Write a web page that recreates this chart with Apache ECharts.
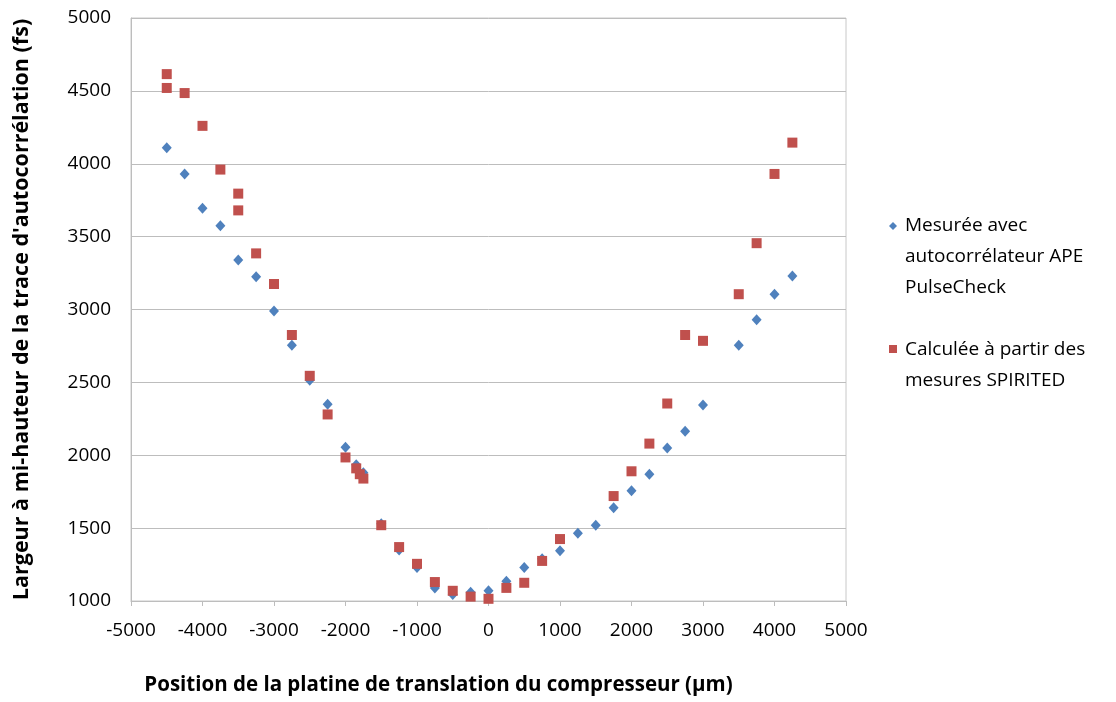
<!DOCTYPE html>
<html>
<head>
<meta charset="utf-8">
<script src="https://cdn.jsdelivr.net/npm/echarts@6/dist/echarts.min.js"></script>
<style>html,body{margin:0;padding:0;background:#fff;}#c{width:1116px;height:702px;}</style>
</head>
<body>
<div id="c"></div>
<script>
const measuredX = [-4500,-4250,-4000,-3750,-3500,-3250,-3000,-2750,-2500,-2250,-2000,-1850,-1750,-1500,-1250,-1000,-750,-500,-250,0,250,500,750,1000,1250,1500,1750,2000,2250,2500,2750,3000,3500,3750,4000,4250];
const measuredY = [4110,3930,3695,3575,3340,3225,2990,2755,2515,2350,2055,1935,1880,1530,1350,1230,1090,1045,1060,1070,1135,1230,1290,1345,1465,1520,1640,1757,1870,2050,2165,2345,2755,2930,3105,3230];
const calcX = [-4500,-4500,-4250,-4000,-3750,-3500,-3500,-3250,-3000,-2750,-2500,-2250,-2000,-1850,-1800,-1750,-1500,-1250,-1000,-750,-500,-250,0,250,500,750,1000,1750,2000,2250,2500,2750,3000,3500,3750,4000,4250];
const calcY = [4615,4520,4485,4260,3960,3795,3680,3385,3175,2825,2545,2280,1985,1910,1870,1840,1520,1370,1255,1130,1070,1030,1015,1090,1125,1275,1425,1720,1890,2080,2355,2825,2785,3105,3455,3930,4145];
const seriesNames = ["Mesurée avec\nautocorrélateur APE\nPulseCheck", "Calculée à partir des\nmesures SPIRITED"];
const xTitle = "Position de la platine de translation du compresseur (µm)";
const yTitle = "Largeur à mi-hauteur de la trace d'autocorrélation (fs)";

const FONT = "Open Sans";
const BLUE = "#4F81BD", RED = "#C0504D";
const plain = v => String(v);
const chart = echarts.init(document.getElementById('c'));
chart.setOption({
  animation: false,
  backgroundColor: '#fff',
  grid: { left: 131, right: 270, top: 18, bottom: 101, show: true, borderColor: '#c8c8c8', borderWidth: 1 },
  xAxis: {
    type: 'value', min: -5000, max: 5000, interval: 1000,
    name: xTitle, nameLocation: 'middle', nameGap: 74,
    nameTextStyle: { fontFamily: FONT, fontSize: 20.5, fontWeight: 'bold', color: '#000', padding: [0,0,0,-100] },
    axisLine: { show: true, onZero: false, lineStyle: { color: '#bdbdbd' } },
    axisTick: { show: true, length: 5, lineStyle: { color: '#bdbdbd' } },
    axisLabel: { fontFamily: FONT, fontSize: 19, color: '#000', margin: 20, formatter: plain },
    splitLine: { show: false }
  },
  yAxis: {
    type: 'value', min: 1000, max: 5000, interval: 500,
    name: yTitle, nameLocation: 'middle', nameGap: 98,
    nameTextStyle: { fontFamily: FONT, fontSize: 21.5, fontWeight: 'bold', color: '#000' },
    axisLine: { show: true, onZero: false, lineStyle: { color: '#bdbdbd' } },
    axisTick: { show: false },
    axisLabel: { fontFamily: FONT, fontSize: 19, color: '#000', margin: 20, formatter: plain },
    splitLine: { show: true, lineStyle: { color: '#bdbdbd' } }
  },
  series: [
    { name: seriesNames[0], type: 'scatter', symbol: 'diamond', symbolSize: [10, 11],
      itemStyle: { color: BLUE, opacity: 1 }, data: measuredX.map((x, i) => [x, measuredY[i]]) },
    { name: seriesNames[1], type: 'scatter', symbol: 'rect', symbolSize: 10,
      itemStyle: { color: RED, opacity: 1 }, data: calcX.map((x, i) => [x, calcY[i]]) }
  ],
  graphic: [
    { type: 'polygon', shape: { points: [[893,222],[897,226],[893,230],[889,226]] }, style: { fill: BLUE } },
    { type: 'text', left: 905, top: 210, style: { text: seriesNames[0], font: '19px "Open Sans"', lineHeight: 31, fill: '#000' } },
    { type: 'rect', shape: { x: 889, y: 345, width: 8, height: 8 }, style: { fill: RED } },
    { type: 'text', left: 905, top: 334, style: { text: seriesNames[1], font: '19px "Open Sans"', lineHeight: 31, fill: '#000' } }
  ]
});
</script>
</body>
</html>
